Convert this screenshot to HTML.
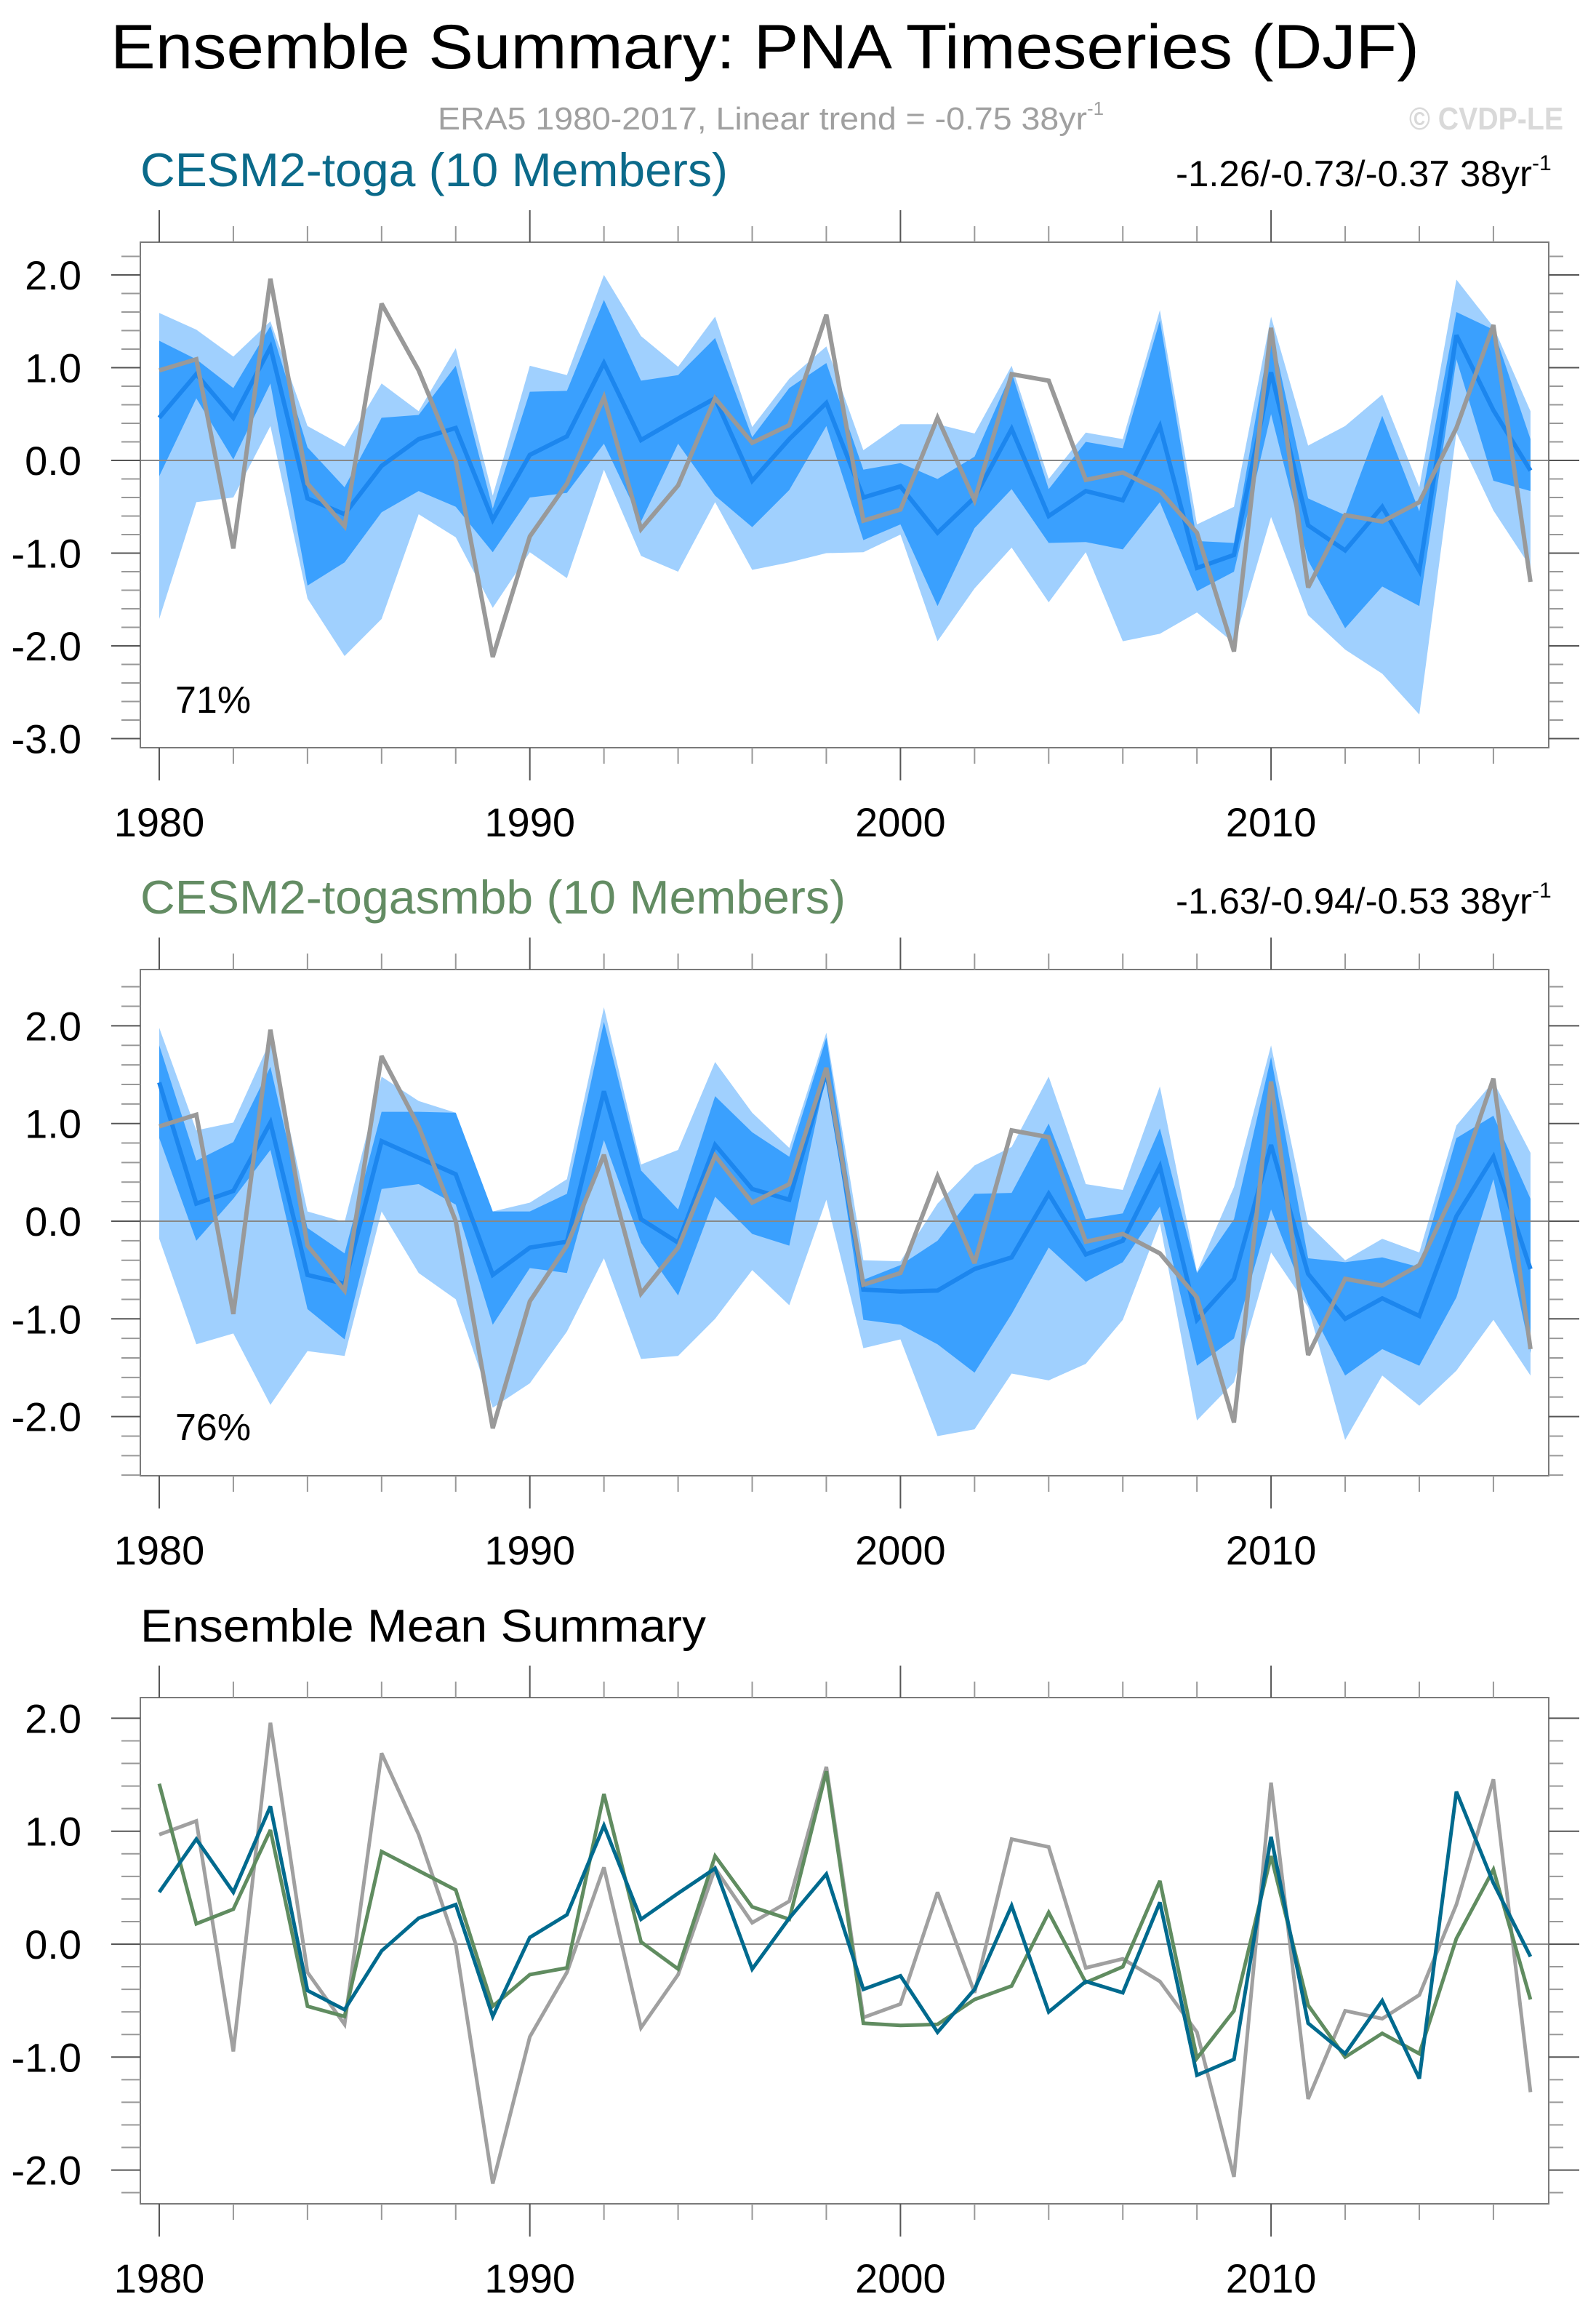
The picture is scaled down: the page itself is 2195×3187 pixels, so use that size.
<!DOCTYPE html>
<html><head><meta charset="utf-8"><style>
html,body{margin:0;padding:0;background:#fff;}
svg{display:block;}
text{font-family:"Liberation Sans",Arial,sans-serif;}
</style></head><body>
<svg id="fig" width="2195" height="3187" viewBox="0 0 2195 3187" xmlns="http://www.w3.org/2000/svg">
<text x="152" y="94" font-size="86" textLength="1800" lengthAdjust="spacingAndGlyphs" fill="#000">Ensemble Summary: PNA Timeseries (DJF)</text>
<text x="602" y="178" font-size="44" fill="#a0a0a0"><tspan textLength="893" lengthAdjust="spacingAndGlyphs">ERA5 1980-2017, Linear trend = -0.75 38yr</tspan><tspan font-size="26" dy="-20">-1</tspan></text>
<text x="1938" y="178" font-size="44" font-weight="bold" fill="#d9d9d9" textLength="212" lengthAdjust="spacingAndGlyphs">© CVDP-LE</text>
<text x="193" y="256" font-size="65" fill="#0b6a8a" textLength="808" lengthAdjust="spacingAndGlyphs">CESM2-toga (10 Members)</text>
<text x="1617" y="256" font-size="50" fill="#000"><tspan textLength="490" lengthAdjust="spacingAndGlyphs">-1.26/-0.73/-0.37 38yr</tspan><tspan font-size="30" dy="-22">-1</tspan></text>
<text x="193" y="1256" font-size="65" fill="#638c63" textLength="970" lengthAdjust="spacingAndGlyphs">CESM2-togasmbb (10 Members)</text>
<text x="1617" y="1256" font-size="50" fill="#000"><tspan textLength="490" lengthAdjust="spacingAndGlyphs">-1.63/-0.94/-0.53 38yr</tspan><tspan font-size="30" dy="-22">-1</tspan></text>
<text x="193" y="2257" font-size="63" fill="#000" textLength="778" lengthAdjust="spacingAndGlyphs">Ensemble Mean Summary</text>
</svg>
<script>
const years = [];
for (let y = 1980; y <= 2017; y++) years.push(y);
const era5 = [0.97,1.09,-0.95,1.96,-0.25,-0.71,1.69,0.97,0.0,-2.12,-0.82,-0.25,0.68,-0.74,-0.27,0.67,0.19,0.38,1.57,-0.65,-0.53,0.46,-0.43,0.93,0.86,-0.21,-0.13,-0.33,-0.78,-2.06,1.43,-1.37,-0.59,-0.66,-0.45,0.35,1.46,-1.31];
const togaMean = [0.46,0.93,0.46,1.22,-0.41,-0.58,-0.06,0.23,0.35,-0.64,0.06,0.26,1.05,0.22,0.45,0.67,-0.22,0.23,0.62,-0.40,-0.28,-0.78,-0.40,0.34,-0.60,-0.33,-0.43,0.37,-1.16,-1.02,0.95,-0.70,-0.97,-0.50,-1.19,1.35,0.54,-0.11];
const smbbMean = [1.42,0.18,0.31,1.01,-0.55,-0.64,0.82,0.65,0.48,-0.55,-0.27,-0.21,1.33,0.02,-0.22,0.78,0.33,0.22,1.53,-0.70,-0.72,-0.71,-0.49,-0.37,0.28,-0.34,-0.20,0.56,-1.01,-0.59,0.78,-0.54,-1.00,-0.79,-0.97,0.05,0.66,-0.49];
const togaMax = [1.59,1.41,1.12,1.50,0.37,0.15,0.83,0.53,1.21,-0.38,1.02,0.92,2.00,1.34,1.01,1.55,0.36,0.88,1.23,0.11,0.39,0.39,0.29,1.02,-0.20,0.30,0.23,1.62,-0.69,-0.50,1.55,0.16,0.37,0.71,-0.29,1.95,1.44,0.53];
const togaHi = [1.29,1.09,0.78,1.45,0.14,-0.29,0.46,0.49,1.02,-0.52,0.74,0.75,1.73,0.86,0.92,1.32,0.25,0.78,1.05,-0.10,-0.03,-0.20,0.04,0.95,-0.31,0.20,0.13,1.51,-0.87,-0.89,1.41,-0.41,-0.59,0.48,-0.55,1.60,1.41,0.23];
const togaLo = [-0.17,0.67,0.01,0.83,-1.35,-1.10,-0.56,-0.33,-0.50,-0.99,-0.40,-0.35,0.18,-0.66,0.18,-0.38,-0.72,-0.32,0.37,-0.86,-0.69,-1.57,-0.73,-0.31,-0.89,-0.88,-0.96,-0.45,-1.41,-1.20,0.50,-1.08,-1.81,-1.36,-1.57,1.09,-0.22,-0.33];
const togaMin = [-1.71,-0.45,-0.40,0.37,-1.49,-2.11,-1.71,-0.58,-0.83,-1.59,-0.99,-1.27,-0.10,-1.03,-1.20,-0.45,-1.18,-1.10,-1.00,-0.99,-0.80,-1.95,-1.38,-0.94,-1.53,-0.99,-1.95,-1.87,-1.64,-1.97,-0.61,-1.67,-2.04,-2.30,-2.74,0.30,-0.54,-1.15];
const smbbMax = [1.98,0.93,1.01,1.85,0.10,-0.01,1.48,1.23,1.11,0.10,0.19,0.43,2.19,0.58,0.73,1.63,1.11,0.75,1.93,-0.40,-0.41,0.18,0.57,0.76,1.48,0.38,0.32,1.38,-0.52,0.35,1.80,-0.03,-0.40,-0.18,-0.32,0.98,1.43,0.70];
const smbbHi = [1.80,0.62,0.81,1.58,-0.07,-0.33,1.12,1.12,1.11,0.10,0.10,0.28,2.04,0.52,0.12,1.28,0.91,0.66,1.88,-0.60,-0.45,-0.20,0.28,0.29,1.00,0.02,0.08,0.95,-0.53,0.02,1.68,-0.38,-0.42,-0.37,-0.47,0.85,1.08,0.23];
const smbbLo = [0.85,-0.20,0.23,0.73,-0.90,-1.21,0.33,0.38,0.17,-1.06,-0.48,-0.53,0.83,-0.22,-0.76,0.25,-0.13,-0.25,1.51,-1.01,-1.06,-1.26,-1.55,-0.95,-0.27,-0.62,-0.42,0.15,-1.48,-1.20,0.12,-0.85,-1.58,-1.31,-1.48,-0.78,0.43,-1.35];
const smbbMin = [-0.18,-1.26,-1.15,-1.88,-1.33,-1.38,0.10,-0.53,-0.80,-1.91,-1.66,-1.13,-0.38,-1.41,-1.38,-1.00,-0.50,-0.86,0.22,-1.30,-1.21,-2.20,-2.13,-1.56,-1.63,-1.46,-1.01,-0.02,-2.04,-1.65,-0.32,-0.88,-2.24,-1.58,-1.89,-1.53,-1.01,-1.58];
const yTicks1 = ["2.0","1.0","0.0","-1.0","-2.0","-3.0"];
const yTicks2 = ["2.0","1.0","0.0","-1.0","-2.0"];
const yTicks3 = ["2.0","1.0","0.0","-1.0","-2.0"];
const xTickLabels = ["1980","1990","2000","2010"];

const NS = "http://www.w3.org/2000/svg";
const svg = document.getElementById('fig');
function mk(tag, attrs, parent) {
  const e = document.createElementNS(NS, tag);
  for (const k in attrs) e.setAttribute(k, attrs[k]);
  (parent || svg).appendChild(e);
  return e;
}
const BOX_L = 193, BOX_R = 2130;
function xScale(yr) { return 219 + (yr - 1980) * 50.97; }

function panel(p) {
  const g = mk('g', {});
  
  
  const ys = v => p.zeroY - v * p.unit;
  const vmax = (p.zeroY - p.top) / p.unit, vmin = (p.zeroY - p.bottom) / p.unit;
  function band(hi, lo, color, nm) {
    let d = '';
    years.forEach((yr, i) => { d += (i ? 'L' : 'M') + xScale(yr).toFixed(1) + ' ' + ys(hi[i]).toFixed(1); });
    for (let i = years.length - 1; i >= 0; i--) d += 'L' + xScale(years[i]).toFixed(1) + ' ' + ys(lo[i]).toFixed(1);
    const e = mk('path', { d: d + 'Z', fill: color }, g);
    
    
  }
  if (p.bands) {
    band(p.bands[0], p.bands[3], '#a0d0fe', p.name + '-minmax-band');
    band(p.bands[1], p.bands[2], '#3aa0fe', p.name + '-10-90-band');
  }
  const z = mk('line', { x1: BOX_L, x2: 2172, y1: ys(0), y2: ys(0), stroke: '#888', 'stroke-width': 2 }, g);
  
  
  function line(vals, color, w, nm) {
    const pts = years.map((yr, i) => xScale(yr).toFixed(1) + ',' + ys(vals[i]).toFixed(1)).join(' ');
    const e = mk('polyline', { points: pts, fill: 'none', stroke: color, 'stroke-width': w, 'stroke-linejoin': 'miter', 'stroke-miterlimit': 3 }, g);
    
    
  }
  p.lines.forEach(l => line(l[0], l[1], l[2], l[3]));
  const fr = mk('rect', { x: BOX_L, y: p.top, width: BOX_R - BOX_L, height: p.bottom - p.top, fill: 'none', stroke: '#7a7a7a', 'stroke-width': 2 }, g);
  
  
  for (let k = Math.ceil(vmin * 5 - 1e-6); k <= Math.floor(vmax * 5 + 1e-6); k++) {
    const v = k / 5, y = ys(v), major = (k % 5 === 0);
    mk('line', { x1: major ? 153 : 167, x2: BOX_L, y1: y, y2: y, stroke: major ? '#555' : '#999', 'stroke-width': 2 }, g);
    mk('line', { x1: BOX_R, x2: major ? 2172 : 2150, y1: y, y2: y, stroke: major ? '#555' : '#999', 'stroke-width': 2 }, g);
  }
  p.yTicks.forEach(lbl => {
    const t = mk('text', { x: 112, y: ys(parseFloat(lbl)) + 20, 'font-size': 56, 'text-anchor': 'end', fill: '#000' }, g);
    
    
    t.textContent = lbl;
  });
  for (let yr = 1980; yr <= 2017; yr += 2) {
    const x = xScale(yr), major = (yr % 10 === 0);
    mk('line', { x1: x, x2: x, y1: p.top - (major ? 44 : 22), y2: p.top, stroke: major ? '#555' : '#999', 'stroke-width': 2 }, g);
    mk('line', { x1: x, x2: x, y1: p.bottom, y2: p.bottom + (major ? 45 : 22), stroke: major ? '#555' : '#999', 'stroke-width': 2 }, g);
  }
  xTickLabels.forEach(lbl => {
    const t = mk('text', { x: xScale(parseInt(lbl)), y: p.bottom + 122, 'font-size': 56, 'text-anchor': 'middle', fill: '#000' }, g);
    
    
    t.textContent = lbl;
  });
  if (p.pct) {
    const t = mk('text', { x: 241, y: p.pctY, 'font-size': 52, fill: '#000' }, g);
    
    
    t.textContent = p.pct;
  }
}

panel({ name: 'panel-cesm2-toga', top: 333, bottom: 1028, zeroY: 633, unit: 127.5, yTicks: yTicks1,
  bands: [togaMax, togaHi, togaLo, togaMin],
  lines: [[togaMean, '#1c86ee', 6, 'toga-ensemble-mean-line'], [era5, '#999999', 6, 'era5-obs-line']],
  pct: '71%', pctY: 980 });
panel({ name: 'panel-cesm2-togasmbb', top: 1333, bottom: 2029, zeroY: 1679, unit: 134.3, yTicks: yTicks2,
  bands: [smbbMax, smbbHi, smbbLo, smbbMin],
  lines: [[smbbMean, '#1c86ee', 6, 'togasmbb-ensemble-mean-line'], [era5, '#999999', 6, 'era5-obs-line']],
  pct: '76%', pctY: 1980 });
panel({ name: 'panel-ensemble-mean-summary', top: 2334, bottom: 3030, zeroY: 2673, unit: 155.3, yTicks: yTicks3,
  lines: [[era5, '#a0a0a0', 5, 'era5-obs-line'], [smbbMean, '#608c60', 5, 'togasmbb-mean-line'], [togaMean, '#006a8e', 5, 'toga-mean-line']] });
</script>
</body></html>
